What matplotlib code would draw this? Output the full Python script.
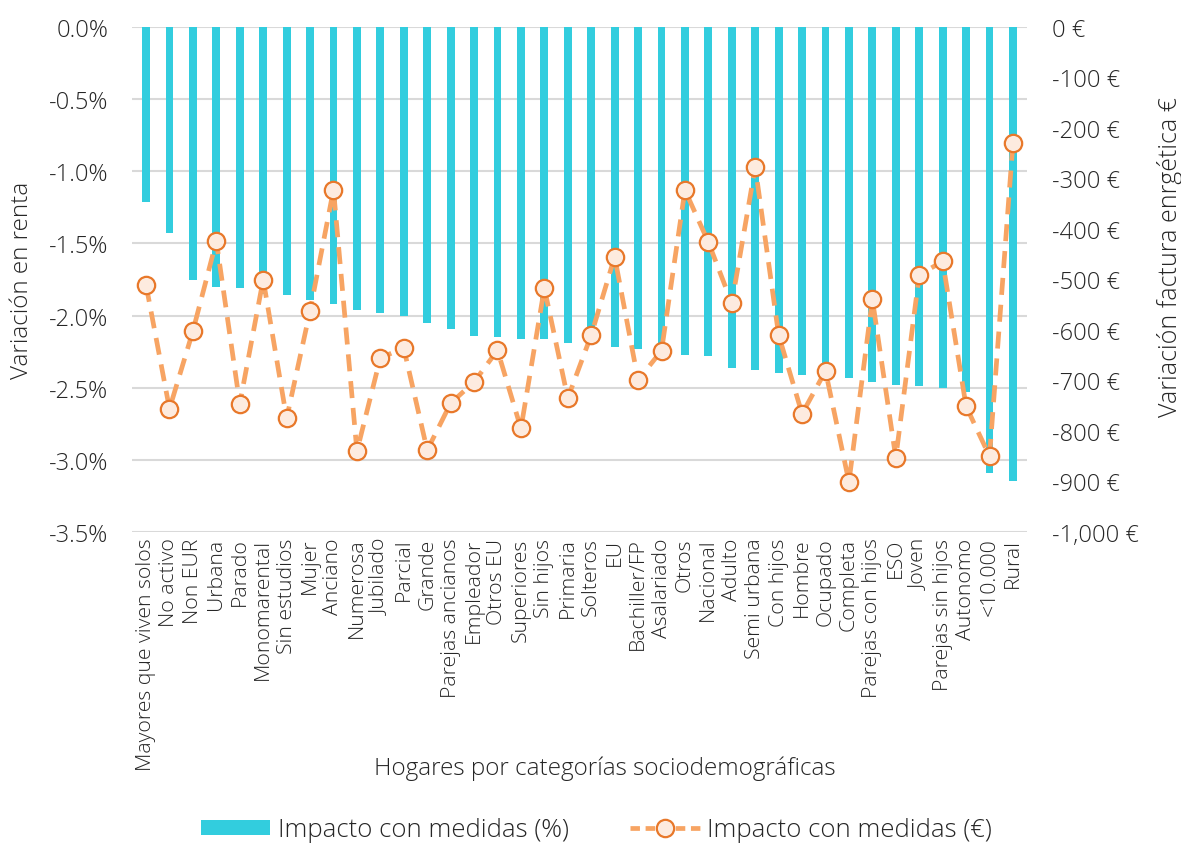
import matplotlib
matplotlib.use("Agg")
import matplotlib.pyplot as plt
from matplotlib.ticker import FuncFormatter, MultipleLocator
from matplotlib.lines import Line2D
from matplotlib.patches import Patch

categories = ["Mayores que viven solos", "No activo", "Non EUR", "Urbana", "Parado",
              "Monomarental", "Sin estudios", "Mujer", "Anciano", "Numerosa",
              "Jubilado", "Parcial", "Grande", "Parejas ancianos", "Empleador",
              "Otros EU", "Superiores", "Sin hijos", "Primaria", "Solteros",
              "EU", "Bachiller/FP", "Asalariado", "Otros", "Nacional", "Adulto",
              "Semi urbana", "Con hijos", "Hombre", "Ocupado", "Completa",
              "Parejas con hijos", "ESO", "Joven", "Parejas sin hijos", "Autonomo",
              "<10.000", "Rural"]

impacto_pct = [-1.21, -1.43, -1.75, -1.80, -1.81, -1.85, -1.86, -1.89, -1.92, -1.96,
               -1.98, -2.00, -2.05, -2.09, -2.14, -2.15, -2.16, -2.16, -2.19, -2.20,
               -2.22, -2.23, -2.25, -2.27, -2.28, -2.36, -2.38, -2.40, -2.41, -2.41,
               -2.43, -2.46, -2.48, -2.49, -2.50, -2.53, -3.09, -3.15]

impacto_eur = [-511, -756, -602, -424, -746, -500, -775, -562, -322, -840,
               -655, -636, -838, -745, -703, -640, -795, -517, -735, -610,
               -455, -699, -641, -323, -426, -547, -277, -610, -766, -681,
               -901, -539, -853, -491, -464, -751, -850, -230]

bar_color = "#32CDDE"
line_color = "#F7A463"
edge_color = "#E8782A"
marker_fill = "#FDEBDF"
text_color = "#262626"
grid_color = "#D9D9D9"

plt.rcParams['font.family'] = ['Open Sans', 'DejaVu Sans']
plt.rcParams['font.weight'] = 'light'
plt.rcParams['axes.labelweight'] = 'light'

fig = plt.figure(figsize=(11.81, 8.45), dpi=100)
ax = fig.add_axes([132/1181, 1 - 533/845, (1027-132)/1181, (533-28)/845])
x = list(range(len(categories)))
ax.bar(x, impacto_pct, width=0.34, color=bar_color, zorder=2)
ax.set_ylim(-3.5, 0)
ax.set_xlim(-0.6, len(categories) - 0.4)
ax.yaxis.set_major_locator(MultipleLocator(0.5))
ax.yaxis.set_major_formatter(FuncFormatter(lambda v, p: f"{v:.1f}%".replace("-0.0", "0.0")))
ax.grid(axis='y', color=grid_color, lw=1.5, zorder=0)
ax.set_axisbelow(True)
for s in ax.spines.values():
    s.set_visible(False)
ax.tick_params(axis='both', length=0, colors=text_color)
ax.tick_params(axis='y', labelsize=17, pad=17)
ax.set_xticks(x)
ax.set_xticklabels(categories, rotation=90, fontsize=15.3, color=text_color)
ax.tick_params(axis='x', pad=4)
ax.set_ylabel("Variación en renta", fontsize=17.5, color=text_color, va='center', fontweight='light')
ax.yaxis.set_label_coords(-0.123, 0.5)
ax.set_xlabel("Hogares por categorías sociodemográficas", fontsize=17.5, color=text_color,
              va='center', fontweight='light')
ax.xaxis.set_label_coords(0.528, -0.467)

ax2 = ax.twinx()
ax2.plot(x, impacto_eur, color=line_color, lw=3.4, linestyle=(0, (3.6, 2.1)),
         marker='o', markersize=12.5, markerfacecolor=marker_fill,
         markeredgecolor=edge_color, markeredgewidth=1.6, zorder=3)
ax2.set_ylim(-1000, 0)
ax2.yaxis.set_major_locator(MultipleLocator(100))
ax2.yaxis.set_major_formatter(FuncFormatter(lambda v, p: f"{v:,.0f} €"))
for s in ax2.spines.values():
    s.set_visible(False)
ax2.tick_params(axis='y', length=0, colors=text_color, labelsize=17, pad=18)
ax2.set_ylabel("Variación factura enrgética €", fontsize=18, color=text_color, va='center',
               fontweight='light')
ax2.yaxis.set_label_coords(1.160, 0.547)

handles = [Patch(facecolor=bar_color, edgecolor='none'),
           Line2D([0], [0], color=line_color, lw=3.4, linestyle=(0, (2.0, 1.2)),
                  marker='o', markersize=12.5, markerfacecolor=marker_fill,
                  markeredgecolor=edge_color, markeredgewidth=1.6)]
fig.legend(handles, ["Impacto con medidas (%)", "Impacto con medidas (€)"],
           loc='center', bbox_to_anchor=(0.505, 1 - 831/845), ncol=2, frameon=False,
           prop={'size': 18.5, 'weight': 'light'}, labelcolor=text_color,
           handlelength=2.7, handleheight=0.5, columnspacing=2.4, handletextpad=0.3)

fig.savefig("out.png", dpi=100)
